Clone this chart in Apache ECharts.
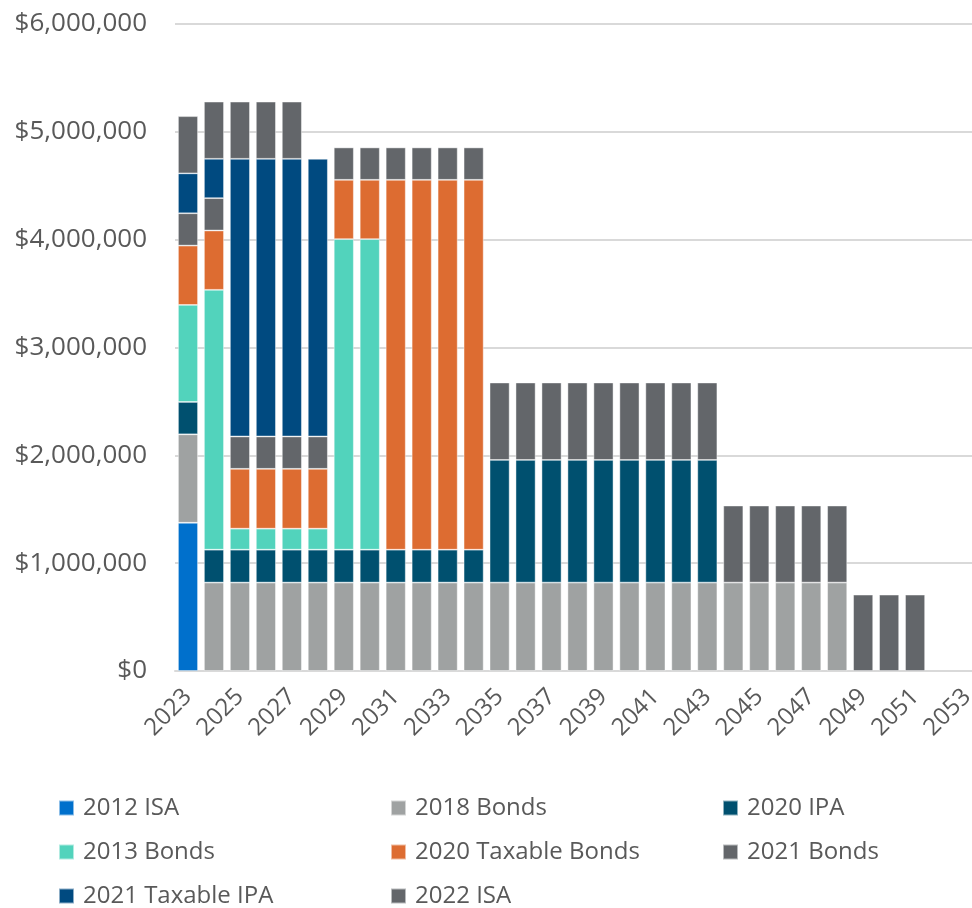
<!DOCTYPE html>
<html>
<head>
<meta charset="utf-8">
<script src="https://cdn.jsdelivr.net/npm/echarts@6/dist/echarts.min.js"></script>
<style>
html,body{margin:0;padding:0;background:#fff;overflow:hidden;}
#chart{width:990px;height:908px;}
</style>
</head>
<body>
<div id="chart"></div>
<script>
// Categories (years)
const years = [];
for (let y = 2023; y <= 2053; y++) years.push(String(y));

// Series values, index 0 = 2023
const isa2012 = [1375000];
const bonds2018 = [820000,820000,820000,820000,820000,820000,820000,820000,820000,820000,820000,820000,820000,820000,820000,820000,820000,820000,820000,820000,820000,820000,820000,820000,820000,820000];
const ipa2020 = [300000,305000,305000,305000,305000,305000,305000,305000,305000,305000,305000,305000,1137000,1137000,1137000,1137000,1137000,1137000,1137000,1137000,1137000];
const bonds2013 = [900000,2410000,195000,195000,195000,195000,2880000,2880000];
const taxBonds2020 = [550000,550000,555000,555000,555000,555000,550000,550000,3430000,3430000,3430000,3430000];
const bonds2021 = [300000,300000,300000,300000,300000,300000,300000,300000,300000,300000,300000,300000,718000,718000,718000,718000,718000,718000,718000,718000,718000,714000,714000,714000,714000,714000,708000,708000,708000];
const taxIpa2021 = [370000,365000,2575000,2575000,2575000,2575000];
const isa2022 = [530000,530000,530000,530000,530000];

const seriesNames = ['2012 ISA','2018 Bonds','2020 IPA','2013 Bonds','2020 Taxable Bonds','2021 Bonds','2021 Taxable IPA','2022 ISA'];
const seriesData = [isa2012,bonds2018,ipa2020,bonds2013,taxBonds2020,bonds2021,taxIpa2021,isa2022];
const colors = ['#0070CC','#9FA2A2','#00506F','#52D3BC','#DD6C31','#63666A','#004A80','#63666A'];

// y tick values
const yMin = 0, yMax = 6000000, yStep = 1000000;

const font = 'Open Sans';
const txt = '#595959';

// Legend layout positions (left, top) - 3 columns
const legendPos = [
  [58,796],[390,796],[722,796],
  [58,840],[390,840],[722,840],
  [58,884],[390,884]
];

const chart = echarts.init(document.getElementById('chart'), null, {renderer:'canvas'});

const series = seriesNames.map((name, i) => ({
  name: name,
  type: 'bar',
  stack: 'total',
  barWidth: 20,
  itemStyle: { color: colors[i], borderColor: 'rgba(255,255,255,0.55)', borderWidth: 0.8 },
  emphasis: { disabled: true },
  data: years.map((_, k) => {
    const v = seriesData[i][k];
    return (v === undefined || v === 0) ? '-' : v;
  })
}));

const legends = seriesNames.map((name, i) => ({
  data: [name],
  left: legendPos[i][0],
  top: legendPos[i][1],
  padding: 0,
  itemWidth: 15,
  itemHeight: 15,
  icon: 'rect',
  selectedMode: false,
  textStyle: { fontFamily: font, fontSize: 24, color: txt, padding: [0,0,0,4] }
}));

chart.setOption({
  animation: false,
  backgroundColor: '#fff',
  color: colors,
  grid: { left: 175, right: 10, top: 24, bottom: 237, containLabel: false },
  legend: legends,
  xAxis: {
    type: 'category',
    data: years,
    boundaryGap: true,
    axisLine: { show: true, lineStyle: { color: '#D9D9D9', width: 2 } },
    axisTick: { show: false },
    axisLabel: {
      interval: 1,
      rotate: 45,
      margin: 22,
      fontFamily: font,
      fontSize: 24,
      color: txt
    }
  },
  yAxis: {
    type: 'value',
    min: yMin,
    max: yMax,
    interval: yStep,
    axisLine: { show: false },
    axisTick: { show: false },
    splitLine: { show: true, lineStyle: { color: '#D9D9D9', width: 2 } },
    axisLabel: {
      margin: 28,
      fontFamily: font,
      fontSize: 26,
      color: txt,
      formatter: v => '$' + v.toLocaleString('en-US')
    }
  },
  series: series
});
</script>
</body>
</html>
